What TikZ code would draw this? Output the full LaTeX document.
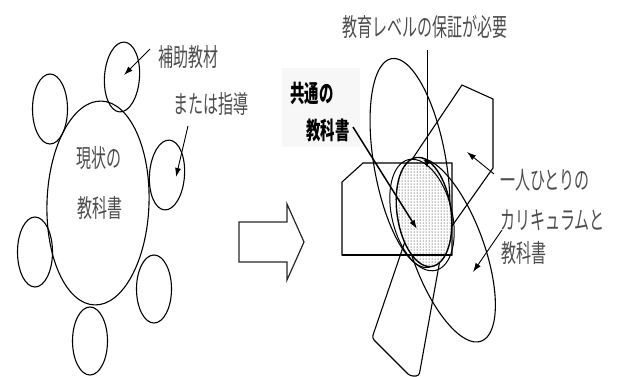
\documentclass[tikz,border=0pt]{standalone}
\usepackage{fontspec}
\newfontfamily\jp[FakeStretch=0.6]{Noto Sans CJK JP}
\usetikzlibrary{arrows.meta,patterns}
\begin{document}
\begin{tikzpicture}[x=1pt,y=-1pt,
  outl/.style={draw=black, line width=1.1pt},
  lbl/.style={font=\jp\fontsize{25}{28}\selectfont, text=black!70, inner sep=0pt},
  blbl/.style={font=\jp\bfseries\fontsize{24}{28}\selectfont, text=black, inner sep=0pt},
  arr/.style={draw=black, line width=0.9pt, -{Latex[length=9pt,width=6pt]}},
  hollow/.style={draw=black!85, line width=1.2pt, line join=miter},
]
\useasboundingbox (0,0) rectangle (626,376);

% ---------- left: current textbook ----------
\draw[outl, rotate around={-2:(98,203)}] (98,203) ellipse [x radius=51pt, y radius=102pt];
\draw[outl, rotate around={-4:(122,77)}] (122,77) ellipse [x radius=17.5pt, y radius=35pt];
\draw[outl] (50,109) ellipse [x radius=17.5pt, y radius=35pt];
\draw[outl, rotate around={-4:(167,175)}] (167,175) ellipse [x radius=17.5pt, y radius=35pt];
\draw[outl] (35,252) ellipse [x radius=17.5pt, y radius=35pt];
\draw[outl] (154,289) ellipse [x radius=17.5pt, y radius=34pt];
\draw[outl] (90,341) ellipse [x radius=17.5pt, y radius=34pt];

\node[lbl] (cur1) at (99,158) {現状の};
\node[lbl] (cur2) at (100,208) {教科書};
\node[lbl, anchor=west] (aux1) at (158,57) {補助教材};
\node[lbl, anchor=west] (aux2) at (173,104) {または指導};

\coordinate (a1s) at (150,49);  \coordinate (a1e) at (124,75);
\coordinate (a2s) at (188,126); \coordinate (a2e) at (176,177);
\draw[arr] (a1s) -- (a1e);
\draw[arr] (a2s) -- (a2e);

% ---------- hollow arrow ----------
\draw[hollow] (239,222) -- (287,222) -- (287,204) -- (304,242) -- (287,280) -- (287,262) -- (239,262) -- cycle;

% ---------- right: individual curricula ----------
\fill[black!3] (282,68) rectangle (360,147);

\draw[outl, rotate around={10:(410,163)}] (410,163) ellipse [x radius=36pt, y radius=106pt];
\draw[outl, rotate around={20:(448,250)}] (448,250) ellipse [x radius=36pt, y radius=97pt];
\draw[outl, line join=miter] (462,85) -- (493,99) -- (493,168) -- (440,243) -- (413,158) -- cycle;
\draw[outl, rounded corners=3pt] (414,215) -- (372,338) -- (410,376) -- (419,376) -- (449,210);

% common textbook (shaded)
\fill[white, rotate around={8:(424,212)}] (424,212) ellipse [x radius=27pt, y radius=55pt];
\fill[pattern=dots, pattern color=black, rotate around={8:(424,212)}] (424,212) ellipse [x radius=27pt, y radius=55pt];
\draw[black, line width=1.4pt, rotate around={8:(424,212)}] (424,212) ellipse [x radius=27pt, y radius=55pt];
\draw[black, line width=1.0pt, rotate around={14:(422,215)}] (422,215) ellipse [x radius=30pt, y radius=57pt];

% house shape
\draw[outl, line join=miter] (342,182) -- (363,163) -- (452,163) -- (452,255) -- (342,255) -- cycle;
\draw[black, line width=1.8pt] (342,255) -- (452,255);

% labels
\node[lbl] (lvl) at (425,27) {教育レベルの保証が必要};
\node[blbl, anchor=west] (com1) at (290,93) {共通の};
\node[blbl, anchor=west] (com2) at (306,130) {教科書};
\node[lbl, anchor=west] (ind1) at (500,180) {一人ひとりの};
\node[lbl, anchor=west] (ind2) at (500,220) {カリキュラムと};
\node[lbl, anchor=west] (ind3) at (501,253) {教科書};

\coordinate (v1) at (427,50);   \coordinate (v2) at (427,168);
\coordinate (a3s) at (353,127); \coordinate (a3e) at (417,229);
\coordinate (a4s) at (494,174); \coordinate (a4e) at (467,152);
\coordinate (a5s) at (502,230); \coordinate (a5e) at (473,272);
\draw[black, line width=0.8pt, -{Latex[length=8pt,width=6pt]}] (v1) -- (v2);
\draw[arr, line width=1.5pt] (a3s) -- (a3e);
\draw[arr] (a4s) -- (a4e);
\draw[arr] (a5s) -- (a5e);
\end{tikzpicture}
\end{document}
